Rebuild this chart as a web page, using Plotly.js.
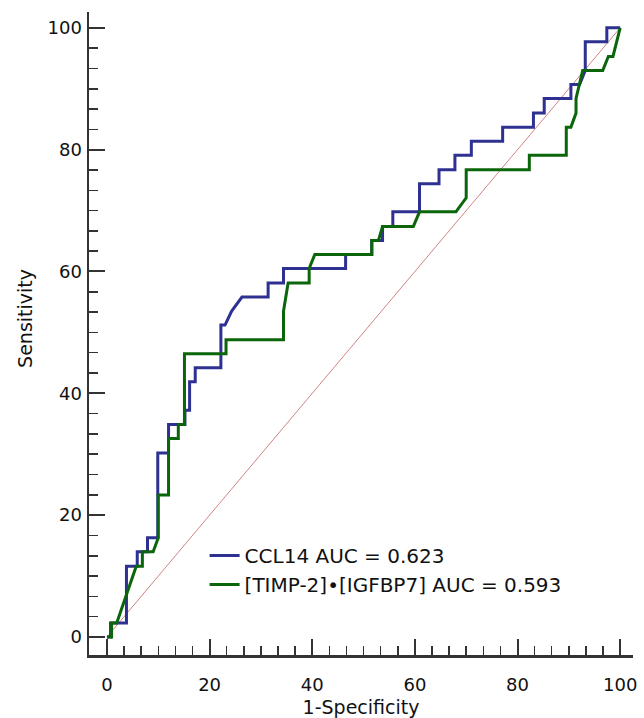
<!DOCTYPE html>
<html>
<head>
<meta charset="utf-8">
<script src="https://cdn.plot.ly/plotly-3.0.1.min.js"></script>
<style>html,body{margin:0;padding:0;background:#fff;}#chart{width:644px;height:718px;}</style>
</head>
<body>
<div id="chart"></div>
<script>
// CCL14 ROC curve (1-Specificity, Sensitivity)
var ccl14X = [0,0.7,0.7,3.8,3.8,5.9,5.9,7.9,7.9,9.9,9.9,12.0,12.0,15.2,15.2,16.1,16.1,17.2,17.2,22.2,22.2,23.0,24.3,26.3,31.4,31.4,34.4,34.4,46.5,46.5,51.6,51.6,53.7,53.7,55.7,55.7,60.9,60.9,64.7,64.7,67.8,67.8,71.0,71.0,77.1,77.1,83.1,83.1,85.2,85.2,90.4,90.4,92.1,93.2,93.2,97.4,97.4,100];
var ccl14Y = [0,0,2.3,2.3,11.6,11.6,14.0,14.0,16.3,16.3,30.2,30.2,34.9,34.9,37.2,37.2,41.9,41.9,44.2,44.2,51.2,51.2,53.5,55.8,55.8,58.1,58.1,60.5,60.5,62.8,62.8,65.1,65.1,67.4,67.4,69.8,69.8,74.4,74.4,76.7,76.7,79.1,79.1,81.4,81.4,83.7,83.7,86.0,86.0,88.4,88.4,90.7,90.7,93.0,97.7,97.7,100,100];

// [TIMP-2]•[IGFBP7] ROC curve
var timpX = [0,0.9,0.9,1.9,5.7,6.9,6.9,9.0,10.0,10.0,12.0,12.0,13.9,13.9,15.1,15.1,23.2,23.2,34.4,34.4,35.3,39.4,39.4,40.5,51.6,51.6,52.9,53.7,59.7,60.9,68.0,70.0,70.0,82.3,82.3,89.5,89.5,90.4,91.4,91.4,92.7,96.6,97.7,98.6,100];
var timpY = [0,0,2.3,2.3,11.6,11.6,14.0,14.0,16.3,23.3,23.3,32.6,32.6,34.9,34.9,46.5,46.5,48.8,48.8,53.5,58.1,58.1,60.5,62.8,62.8,65.1,65.1,67.4,67.4,69.8,69.8,72.1,76.7,76.7,79.1,79.1,83.7,83.7,86.0,88.4,93.0,93.0,95.3,95.3,100];

var refX = [0,100];
var refY = [0,100];

var seriesNames = ["CCL14 AUC = 0.623", "[TIMP-2]\u2022[IGFBP7] AUC = 0.593"];
var tickVals = [0,20,40,60,80,100];
var xTitle = '1-Specificity';
var yTitle = 'Sensitivity';

var fontFam = '"DejaVu Sans", Verdana, sans-serif';
var txtColor = '#111';

var traces = [
  {x: refX, y: refY, mode: 'lines', line: {color: '#cf8585', width: 1}, showlegend: false, hoverinfo: 'skip'},
  {x: ccl14X, y: ccl14Y, mode: 'lines', name: seriesNames[0], line: {color: '#2e3192', width: 3}},
  {x: timpX, y: timpY, mode: 'lines', name: seriesNames[1], line: {color: '#0b650b', width: 3}}
];

var axisCommon = {
  showgrid: false,
  zeroline: false,
  showline: true,
  linecolor: '#333',
  linewidth: 2.5,
  ticks: 'inside',
  ticklen: 16,
  tickwidth: 2,
  tickcolor: '#333',
  tickvals: tickVals,
  tickfont: {family: fontFam, size: 18, color: txtColor},
  minor: {dtick: 20/6, tick0: 0, ticks: 'inside', ticklen: 9, tickwidth: 1.5, tickcolor: '#333', showgrid: false}
};

var xaxis = Object.assign({}, axisCommon, {
  range: [-3.5, 102.5],
  ticklabelstandoff: 12,
  title: {text: xTitle, font: {family: fontFam, size: 19, color: txtColor}, standoff: 7}
});
var yaxis = Object.assign({}, axisCommon, {
  range: [-2.96, 102.6],
  ticklabelstandoff: 1
});

var layout = {
  width: 644, height: 718,
  margin: {l: 89, r: 11, t: 12, b: 63},
  paper_bgcolor: '#fff', plot_bgcolor: '#fff',
  xaxis: xaxis, yaxis: yaxis,
  showlegend: true,
  legend: {x: 0.2125, y: 0.185, xanchor: 'left', yanchor: 'top', bgcolor: 'rgba(0,0,0,0)',
           font: {family: fontFam, size: 20, color: txtColor}, tracegroupgap: 0, itemwidth: 30},
  annotations: [
    {text: yTitle, xref: 'paper', yref: 'paper', x: -0.118, y: 0.524, xanchor: 'center', yanchor: 'middle',
     textangle: -90, showarrow: false, font: {family: fontFam, size: 19, color: txtColor}}
  ]
};

Plotly.newPlot('chart', traces, layout, {staticPlot: true, displayModeBar: false});
</script>
</body>
</html>
